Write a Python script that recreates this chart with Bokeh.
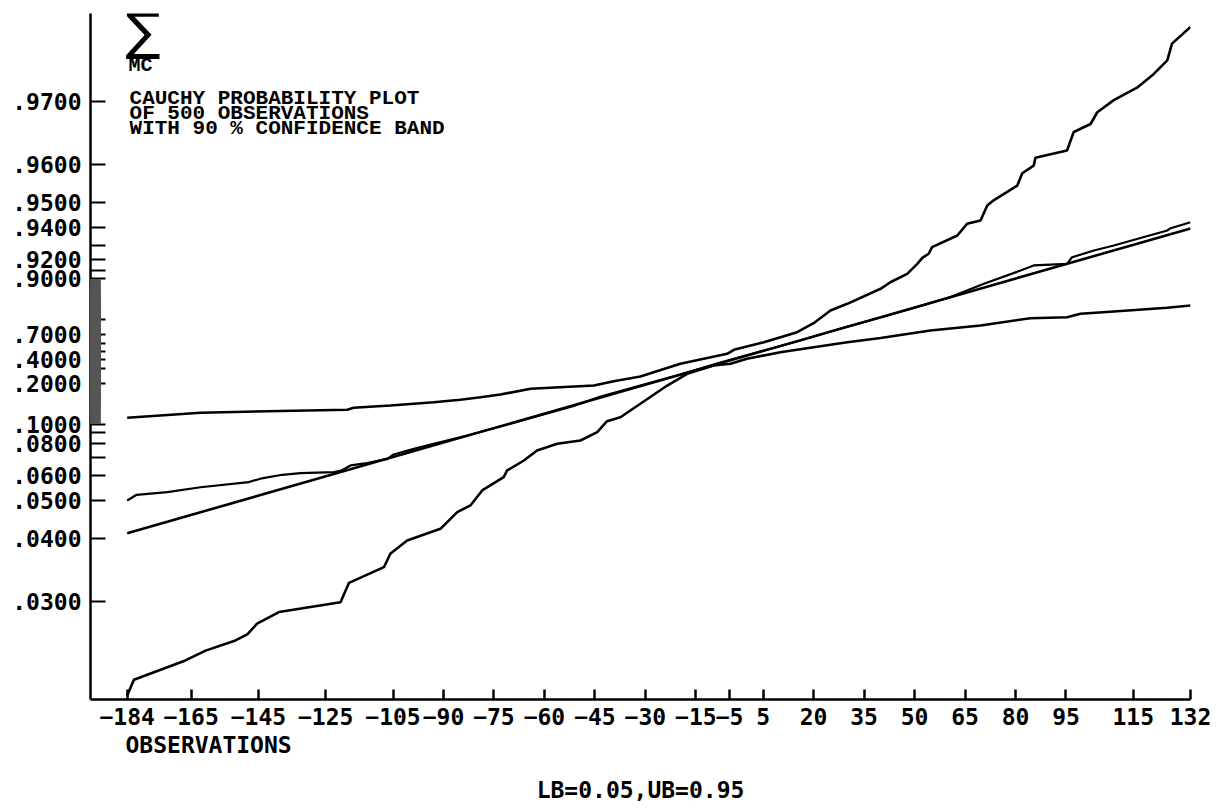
import numpy as np
from bokeh.plotting import figure
from bokeh.models import Range1d, FixedTicker, CustomJSTickFormatter, Label, Title
from bokeh.embed import file_html
from bokeh.resources import INLINE

# ---------------- data ----------------
# x: observation value, p: cumulative probability (Cauchy probability scale)
UPPER_X = [-184, -162.2, -142.4, -118.6, -116.7, -105.8, -92.9, -85.0, -79.0, -73.1,
           -64.1, -45.3, -39.4, -31.5, -19.6, -5.7, -3.7, 5.2, 15.1, 20.0,
           25.0, 30.0, 39.9, 42.8, 47.8, 50.8, 52.3, 54.2, 55.2, 62.7,
           65.6, 69.6, 71.6, 73.5, 80.5, 82.0, 85.4, 85.9, 95.3, 97.3,
           102.3, 104.3, 109.2, 116.1, 121.1, 125.1, 126.5, 132]
UPPER_P = [0.1089, 0.1170, 0.1198, 0.1225, 0.1263, 0.1311, 0.1387, 0.1447, 0.1517, 0.1598,
           0.1795, 0.1931, 0.2137, 0.2408, 0.3471, 0.4691, 0.5229, 0.6195, 0.7183, 0.7787,
           0.8338, 0.8537, 0.8854, 0.8955, 0.9061, 0.9163, 0.9214, 0.9246, 0.9292, 0.9361,
           0.9418, 0.9433, 0.9490, 0.9507, 0.9550, 0.9581, 0.9598, 0.9614, 0.9628, 0.9659,
           0.9671, 0.9687, 0.9702, 0.9716, 0.9730, 0.97425, 0.97565, 0.9769]

LOWER_X = [-184, -182.0, -166.7, -160.7, -151.8, -148.3, -145.4, -138.9, -120.6, -118.1,
           -107.7, -105.8, -100.8, -90.9, -85.9, -82.0, -78.5, -72.1, -71.1, -66.1,
           -62.2, -56.2, -49.3, -44.3, -41.4, -37.4, -31.5, -23.5, -17.6, -9.7,
           -4.7, 0.2, 10.1, 20.0, 30.0, 39.9, 54.7, 69.6, 84.4, 95.3,
           99.3, 109.2, 125.1, 132]
LOWER_P = [0.0218, 0.02285, 0.02427, 0.02506, 0.02594, 0.02649, 0.02753, 0.02875, 0.02987, 0.03235,
           0.03469, 0.03698, 0.03956, 0.04212, 0.04644, 0.04842, 0.05354, 0.05908, 0.06233, 0.06787,
           0.07449, 0.07967, 0.08251, 0.09056, 0.1039, 0.1097, 0.1350, 0.1931, 0.2590, 0.3296,
           0.3471, 0.4046, 0.4906, 0.5573, 0.6195, 0.6654, 0.7315, 0.7654, 0.8038, 0.8081,
           0.8219, 0.8303, 0.8424, 0.8491]

ECDF_X = [-184, -181.2, -172.1, -162.2, -147.9, -144.4, -137.9, -132.5, -122.6, -120.6,
          -117.6, -112.7, -106.7, -104.8, -98.8, -92.9, -83.0, -73.1, -51.3, -43.3,
          -31.5, -19.6, -7.7, 4.2, 16.1, 28.0, 39.9, 51.8, 60.7, 70.6,
          81.5, 85.4, 95.3, 96.8, 103.3, 109.2, 125.1, 126.1, 132]
ECDF_P = [0.0500, 0.05195, 0.0529, 0.0548, 0.0569, 0.0584, 0.0602, 0.0610, 0.0615, 0.0621,
          0.0650, 0.0663, 0.0689, 0.0717, 0.0757, 0.0797, 0.0872, 0.0970, 0.1301, 0.1536,
          0.1931, 0.2541, 0.3611, 0.5000, 0.6389, 0.7459, 0.8069, 0.8477, 0.8699, 0.8932,
          0.9097, 0.9148, 0.9163, 0.9219, 0.9269, 0.9303, 0.9387, 0.9398, 0.9425]

FIT_X = [-184, 132]
FIT_P = [0.0411, 0.9397]

X_TICKS = [-184, -165, -145, -125, -105, -90, -75, -60, -45, -30, -15, -5, 5,
           20, 35, 50, 65, 80, 95, 115, 132]

Y_TICK_PROBS = [0.03, 0.04, 0.05, 0.06, 0.08, 0.10, 0.20, 0.40, 0.70,
                0.90, 0.92, 0.94, 0.95, 0.96, 0.97]
Y_TICK_LABELS = [".0300", ".0400", ".0500", ".0600", ".0800", ".1000", ".2000", ".4000", ".7000",
                 ".9000", ".9200", ".9400", ".9500", ".9600", ".9700"]

TITLE_LINES = ["CAUCHY PROBABILITY PLOT", "OF 500 OBSERVATIONS", "WITH 90 % CONFIDENCE BAND"]
X_LABEL = "OBSERVATIONS"
FOOTNOTE = "LB=0.05,UB=0.95"


def cq(prob):
    """Cauchy quantile: the probability-paper coordinate."""
    return np.tan(np.pi * (np.asarray(prob, dtype=float) - 0.5))


MONO = "DejaVu Sans Mono"
TMONO = "Liberation Mono"

p = figure(frame_width=1100, frame_height=686,
           x_range=Range1d(-194.9, 132.0), y_range=Range1d(-14.746, 14.322),
           output_backend="svg", toolbar_location=None,
           min_border_left=90, min_border_right=30, min_border_top=13, min_border_bottom=20,
           background_fill_color="white", border_fill_color="white")
p.outline_line_color = None
p.xgrid.visible = False
p.ygrid.visible = False

# ---- x axis
xa = p.xaxis[0]
xa.ticker = FixedTicker(ticks=X_TICKS)
xa.axis_line_width = 2.5
xa.axis_line_color = "black"
xa.major_tick_in = 10
xa.major_tick_out = 0
xa.major_tick_line_width = 2.5
xa.minor_tick_line_color = None
xa.major_label_text_font = MONO
xa.major_label_text_font_size = "23px"
xa.major_label_text_font_style = "bold"
xa.major_label_text_color = "black"
xa.major_label_standoff = 8

# ---- y axis (probability paper)
hund = np.round(np.arange(3, 98) / 100.0, 2)
major_probs = [q for q in hund if q <= 0.10 or q >= 0.90 or abs(q * 10 - round(q * 10)) < 1e-9]
half = np.round(np.arange(200, 1801) / 2000.0, 4)
minor_probs = [q for q in half if 0.10 < q < 0.90 and not any(abs(q - m) < 1e-9 for m in major_probs)]
ya = p.yaxis[0]
ya.ticker = FixedTicker(ticks=list(cq(major_probs)), minor_ticks=list(cq(minor_probs)))
ya.formatter = CustomJSTickFormatter(
    args=dict(zs=list(cq(Y_TICK_PROBS)), labels=Y_TICK_LABELS),
    code="""
for (let i = 0; i < zs.length; i++) {
  if (Math.abs(zs[i] - tick) < 1e-6) { return labels[i]; }
}
return '';
""")
ya.axis_line_width = 2.5
ya.axis_line_color = "black"
ya.major_tick_in = 15
ya.major_tick_out = 0
ya.major_tick_line_width = 2.2
ya.minor_tick_in = 10
ya.minor_tick_out = 0
ya.minor_tick_line_width = 1
ya.minor_tick_line_color = "#555555"
ya.major_label_text_font = MONO
ya.major_label_text_font_size = "23px"
ya.major_label_text_font_style = "bold"
ya.major_label_text_color = "black"
ya.major_label_standoff = 9

# ---- curves
LW = 2.6
p.line(UPPER_X, cq(UPPER_P), line_color="black", line_width=LW)
p.line(LOWER_X, cq(LOWER_P), line_color="black", line_width=LW)
p.line(FIT_X, cq(FIT_P), line_color="black", line_width=LW)
p.line(ECDF_X, cq(ECDF_P), line_color="black", line_width=LW - 0.4)

# ---- texts inside the frame
def add_label(x, y, text, size, align="left", font=TMONO, style="bold"):
    p.add_layout(Label(x=x, y=y, text=text, text_font=font, text_font_size=size,
                       text_font_style=style, text_align=align, text_baseline="middle",
                       text_color="black"))

add_label(-179.3, 13.56, "\u2211", "52px", align="center", font="DejaVu Sans", style="normal")
add_label(-183.6, 12.1, "MC", "20px")
for i, line in enumerate(TITLE_LINES):
    add_label(-183.3, 10.72 - 0.635 * i, line, "21px")

# ---- texts below the axis
t1 = Title(text=X_LABEL, align="left", offset=35, standoff=5,
           text_font=MONO, text_font_size="23px", text_font_style="bold", text_color="black")
t2 = Title(text=FOOTNOTE, align="center", offset=-14, standoff=29,
           text_font=MONO, text_font_size="23px", text_font_style="bold", text_color="black")
p.add_layout(t1, "below")
p.add_layout(t2, "below")

open("out.html", "w").write(file_html(p, INLINE))
